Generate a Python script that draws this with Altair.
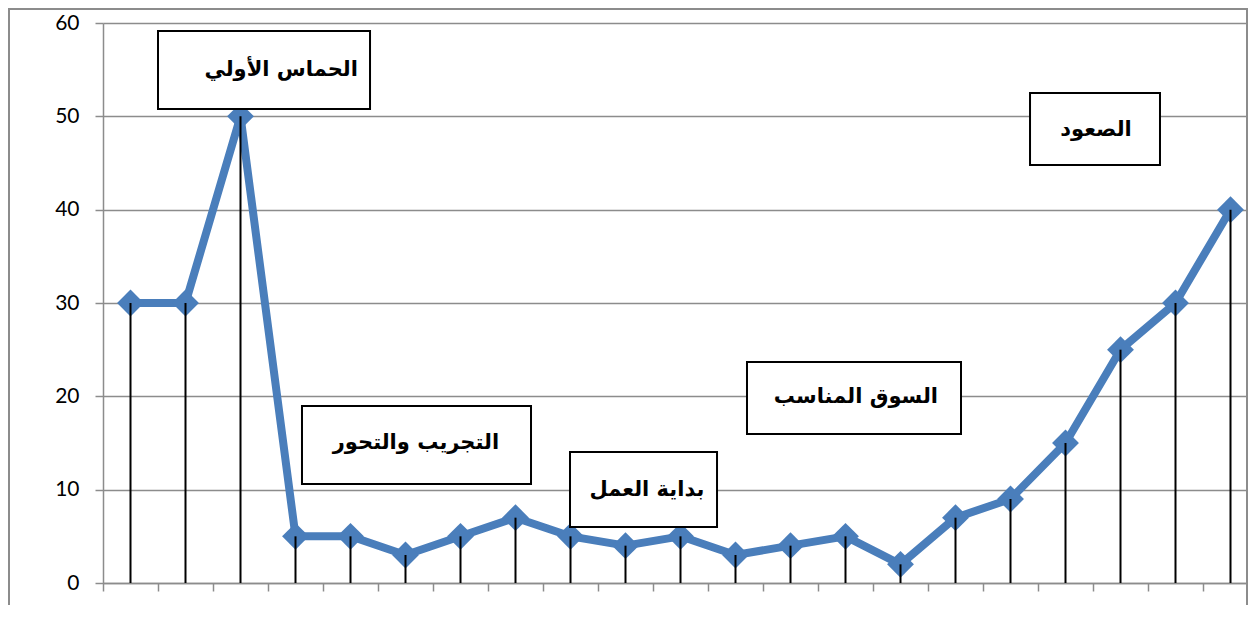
import altair as alt
import pandas as pd

# ---- data ----
periods = [1, 2, 3, 4, 5, 6, 7, 8, 9, 10, 11, 12, 13, 14, 15, 16, 17, 18, 19, 20, 21]
values = [30, 30, 50, 5, 5, 3, 5, 7, 5, 4, 5, 3, 4, 5, 2, 7, 9, 15, 25, 30, 40]

box_labels = ["الحماس الأولي", "الصعود", "التجريب والتحور", "بداية العمل", "السوق المناسب"]
box_x1 = [1.5, 17.355, 4.118, 8.991, 12.209]
box_x2 = [5.355, 19.718, 8.282, 11.664, 16.1]
box_y1 = [59.14, 52.5, 18.96, 14.04, 23.68]
box_y2 = [50.79, 44.79, 10.61, 6.0, 15.96]
text_x = [3.74, 18.555, 6.19, 10.39, 14.19]
text_y = [54.96, 48.54, 15.0, 9.96, 19.93]

y_ticks = [0, 10, 20, 30, 40, 50, 60]
x_ticks = [p - 0.5 for p in periods]

df = pd.DataFrame({"period": periods, "value": values})
boxes = pd.DataFrame({"label": box_labels, "x1": box_x1, "x2": box_x2,
                      "y1": box_y1, "y2": box_y2, "tx": text_x, "ty": text_y})

GRID = "#8c8c8c"
BLUE = "#4a7ebb"

W = 1145
xscale = alt.Scale(domain=[0.5, 0.5 + W / 55.0], nice=False, zero=False)
yscale = alt.Scale(domain=[0, 60], nice=False)

xaxis = alt.Axis(values=x_ticks, labels=False, title=None, grid=False,
                 tickColor=GRID, tickSize=8, tickWidth=1.5,
                 domainColor=GRID, domainWidth=1.5)
yaxis = alt.Axis(values=y_ticks, title=None, grid=True, gridColor=GRID, gridWidth=1.5,
                 tickColor=GRID, tickSize=8, tickWidth=1.5,
                 domainColor=GRID, domainWidth=1.5,
                 labelFont="Lato", labelFontSize=21, labelColor="#000000",
                 labelPadding=16)

base = alt.Chart(df)

frame = base.mark_rect(fill=None, stroke=GRID, strokeWidth=1.5, clip=False).encode(
    x=alt.value(-94.5), x2=alt.value(W - 0.5), y=alt.value(0.5 - 15), y2=alt.value(800)
)

line = base.mark_line(color=BLUE, strokeWidth=8, strokeJoin="round").encode(
    x=alt.X("period:Q", scale=xscale, axis=xaxis),
    y=alt.Y("value:Q", scale=yscale, axis=yaxis),
)

points = base.mark_point(shape="diamond", filled=True, size=720, color=BLUE, opacity=1).encode(
    x=alt.X("period:Q", scale=xscale),
    y=alt.Y("value:Q", scale=yscale),
)

drops = base.mark_rule(color="#000000", strokeWidth=2).encode(
    x=alt.X("period:Q", scale=xscale),
    y=alt.Y("value:Q", scale=yscale),
    y2=alt.datum(0),
)

rects = alt.Chart(boxes).mark_rect(fill="white", stroke="#000000", strokeWidth=2).encode(
    x=alt.X("x1:Q", scale=xscale), x2="x2:Q",
    y=alt.Y("y1:Q", scale=yscale), y2="y2:Q",
)

texts = alt.Chart(boxes).mark_text(font="DejaVu Sans", fontSize=21, fontWeight="bold",
                                   color="#000000", align="center", baseline="middle").encode(
    x=alt.X("tx:Q", scale=xscale),
    y=alt.Y("ty:Q", scale=yscale),
    text="label:N",
)

chart = alt.layer(frame, line, points, drops, rects, texts).properties(
    width=W, height=560,
    autosize=alt.AutoSizeParams(type="none"),
    padding={"left": 95, "top": 15, "right": 0, "bottom": 22},
    background="white",
).configure_view(stroke=None)

chart.save("out.html", embed_options={"renderer": "svg", "actions": False})
